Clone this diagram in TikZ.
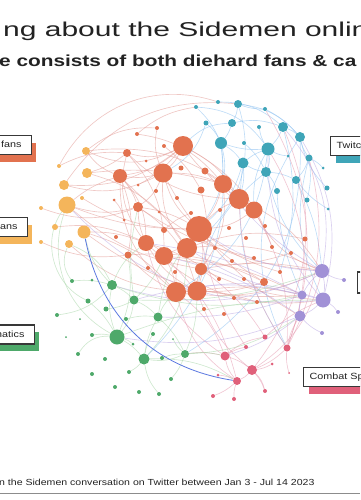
\documentclass[tikz,border=0pt]{standalone}
\usepackage{fontspec}
\setmainfont{Liberation Sans}
\newfontfamily\titlefont[FakeStretch=1.5]{Liberation Sans}
\newfontfamily\subfont[FakeStretch=1.3]{Liberation Sans}
\newfontfamily\labelfont[FakeStretch=1.2]{Liberation Sans}
\usetikzlibrary{backgrounds,shadows}

\definecolor{corange}{HTML}{E2724F}
\definecolor{cyellow}{HTML}{F4B55B}
\definecolor{cteal}{HTML}{3FA5B8}
\definecolor{cpurple}{HTML}{A191D6}
\definecolor{cgreen}{HTML}{4EA96A}
\definecolor{cpink}{HTML}{E0607A}
\definecolor{cline}{HTML}{5B78E0}
\definecolor{ink}{HTML}{222222}
\definecolor{eorange}{HTML}{E29A95}
\definecolor{eteal}{HTML}{8CC0F0}
\definecolor{epink}{HTML}{E59AB0}
\definecolor{epurple}{HTML}{BBA8E3}
\definecolor{egreen}{HTML}{A9D6A9}

\tikzset{
  dot/.style={circle, inner sep=0pt, draw=none},
  odot/.style={dot, fill=corange},
  ydot/.style={dot, fill=cyellow},
  tdot/.style={dot, fill=cteal},
  pdot/.style={dot, fill=cpurple},
  gdot/.style={dot, fill=cgreen},
  kdot/.style={dot, fill=cpink},
  edge/.style={line width=.65pt, opacity=.55},
  oedge/.style={edge, draw=eorange},
  tedge/.style={edge, draw=eteal},
  kedge/.style={edge, draw=epink},
  pedge/.style={edge, draw=epurple},
  gedge/.style={edge, draw=egreen},
  tag/.style={draw=black!78, line width=1.1pt, fill=white, font=\labelfont\fontsize{9}{11}\selectfont,
    text=ink, text width=60pt, minimum height=19pt, text height=7pt, text depth=2pt, inner ysep=4pt},
  ltag/.style={tag, anchor=east, align=right, inner xsep=10pt},
  rtag/.style={tag, anchor=west, align=left, inner xsep=6pt},
  shade/.style={drop shadow={opacity=1, fill=#1, shadow xshift=5pt, shadow yshift=-7pt}}
}

\begin{document}
\begin{tikzpicture}[x=1pt, y=-1pt]
  \useasboundingbox (0,0) rectangle (360,500);
  \clip (0,0) rectangle (360,500);

  % headline
  \node[anchor=base west, inner sep=0, text=ink, font=\titlefont\fontsize{20}{24}\selectfont] (title) at (3,37) {ng about the Sidemen onlin};
  \node[anchor=base west, inner sep=0, text=ink, font=\subfont\bfseries\fontsize{16}{19}\selectfont] (subtitle) at (-1,67) {e consists of both diehard fans \& ca};

  % communities
  \foreach \n/\x/\y/\r in {o1/183/146/10, o2/120/176/7, o3/163/173/9.5, o4/127/153/4, o5/181/168/2.5, o6/205/171/3.5,
      o7/223/184/9, o8/239/199/10, o9/254/210/8.5, o10/201/190/3.5, o11/138/207/5, o12/199/229/13, o13/146/243/8,
      o14/164/230/3, o15/187/248/10, o16/164/256/9, o17/128/255/3.5, o18/201/269/6, o19/176/292/10, o20/197/291/9.5,
      o21/137/134/2, o22/157/128/2, o23/164/146/2, o24/146/161/1.5, o25/156/191/2, o26/177/198/2, o27/114/200/1.5,
      o28/138/185/1.5, o29/159/212/1.5, o30/191/213/2, o31/220/210/2, o32/229/228/2, o33/246/238/2, o34/265/226/2,
      o35/272/247/2, o36/124/220/1.5, o37/116/237/2, o38/215/248/2, o39/148/268/2, o40/175/272/2, o41/232/261/2,
      o42/254/258/2, o43/280/272/2, o44/219/279/2, o45/244/279/2, o46/264/282/4, o47/234/298/2, o48/257/302/2,
      o49/204/309/2, o50/224/314/2, o51/305/239/2.5, o52/291/253/2}
    \node[odot, minimum size=2*\r] (\n) at (\x,\y) {};
  \foreach \n/\x/\y/\r in {y1/86/151/4, y2/87/173/5, y3/64/185/5, y4/67/205/8.5, y5/82/198/2, y6/84/232/6.5,
      y7/69/244/4, y8/59/166/2, y9/41/208/2, y10/55/227/3, y11/41/242/2}
    \node[ydot, minimum size=2*\r] (\n) at (\x,\y) {};
  \foreach \n/\x/\y/\r in {t1/238/104/4, t2/218/102/2, t3/196/107/2, t4/206/123/2.5, t5/232/123/4, t6/221/143/6,
      t7/244/143/2, t8/259/127/2, t9/265/109/2, t10/268/149/6.5, t11/243/163/5.5, t12/266/172/5, t13/277/191/3,
      t14/283/127/5, t15/300/137/5, t16/309/158/3.5, t17/288/156/1.5, t18/296/180/4, t19/323/168/1.5,
      t20/327/188/2.5, t21/307/200/2.5, t22/328/209/1.5}
    \node[tdot, minimum size=2*\r] (\n) at (\x,\y) {};
  \foreach \n/\x/\y/\r in {p1/322/271/7, p2/323/300/7.5, p3/302/295/4.5, p4/300/316/5.5, p5/344/280/2,
      p6/338/312/2, p7/322/333/2}
    \node[pdot, minimum size=2*\r] (\n) at (\x,\y) {};
  \foreach \n/\x/\y/\r in {g1/112/285/5, g2/134/300/4.5, g3/158/317/4.5, g4/117/337/7.5, g5/144/359/5.5,
      g6/185/354/4, g7/72/281/2, g8/92/280/1.5, g9/88/301/2.5, g10/106/309/2.5, g11/126/319/2, g12/80/319/1,
      g13/66/337/1, g14/92/335/2, g15/133/344/1.5, g16/153/334/2, g17/78/354/2, g18/105/359/2, g19/92/374/2,
      g20/129/372/2, g21/162/358/2, g22/115/387/2, g23/139/392/2, g24/159/394/2, g25/171/379/2, g26/57/315/2,
      g27/173/339/1}
    \node[gdot, minimum size=2*\r] (\n) at (\x,\y) {};
  \foreach \n/\x/\y/\r in {k1/225/356/4.5, k2/252/370/5, k3/237/381/4, k4/287/348/3.5, k5/265/337/2.5,
      k6/246/347/2, k7/272/364/1.5, k8/289/373/1, k9/218/375/1.5, k10/213/396/2, k11/234/399/2, k12/265/391/2}
    \node[kdot, minimum size=2*\r] (\n) at (\x,\y) {};

  % ties
  \begin{scope}[on background layer]
    \foreach \a/\b/\bnd in {o1/o2/15, o1/o3/10, o1/o7/-10, o1/o4/20, o2/o3/-10, o2/o11/10, o2/o13/20, o3/o12/-15,
        o3/o7/10, o3/o11/15, o4/o8/-20, o7/o12/10, o8/o12/-10, o9/o12/15, o11/o13/-10, o12/o15/10, o12/o19/-20,
        o13/o16/15, o15/o16/-10, o16/o19/10, o19/o20/-15, o20/o18/10, o18/o12/-10, o2/y1/15, o2/y4/-10, o4/y2/10,
        o11/y4/15, o13/y6/-10, o3/y3/20, o1/y1/25, o19/p1/-15, o20/p3/10, o18/p2/-10, o9/p1/-20, o8/p1/15,
        o12/p4/-10, o16/p3/10, o15/p1/15, o2/o19/-25, o4/o16/20, o13/o20/-15, o11/o12/10, o7/o9/-10, o1/o8/15,
        y4/o12/-10, y6/o19/15, o2/p1/-20, o1/o35/20, o3/o46/-15, o13/o44/10, o17/o46/15, o11/o42/-10, y2/o7/10,
        y3/o1/-20, y3/t1/30, y1/o9/25, y7/o20/-20, y4/o18/-15, o4/o13/-25, o2/o17/15, o3/o15/-20, o7/o18/20,
        o12/o43/-10, o15/o51/15, o16/o52/-15, o19/o48/10, o20/o46/-10, o14/o30/10, o21/o7/20, o22/o3/-15,
        o23/o10/10, o27/o36/15, o28/o1/-10, o11/o20/20, y5/o12/-15, y2/o15/20, o6/o9/-10, o10/o20/15,
        o17/o19/-10, o13/p2/-25, o18/p1/10, y6/p3/-20, y8/o4/15, y9/o11/-20, y10/o13/15, y11/o17/-15,
        y8/t2/40, y1/o22/20, o21/t3/15}
      \draw[oedge] (\a) to[bend left=\bnd] (\b);
    \foreach \a/\b/\bnd in {t1/t5/10, t1/t9/-10, t5/t6/10, t6/t10/-10, t6/t11/10, t10/t11/-10, t10/t12/15,
        t10/t14/-10, t14/t15/10, t15/t16/-10, t12/t13/10, t11/t12/-10, t16/t18/10, t18/t12/-10, t6/o7/10,
        t10/o9/-15, t11/o8/10, t5/t14/15, t6/t3/-10, t4/t6/10, t1/t15/20, t12/p1/-15, t16/p2/-20, t6/o12/20,
        t6/g5/25, t11/k4/-20, t10/o19/25, t12/o20/-20, t15/g6/30, t3/t10/25, t2/t14/20, t9/t15/10, t8/t10/-10,
        t7/t12/10, t13/p3/-10, t18/p1/10, t21/t16/-10, t20/t15/15, t5/o1/-20, t11/o12/15, t4/o3/20, t14/o43/15,
        t15/k4/-30, t1/o15/35, t17/t10/10, t19/t16/-10, t22/t18/10}
      \draw[tedge] (\a) to[bend left=\bnd] (\b);
    \foreach \a/\b/\bnd in {k1/k2/10, k1/k3/-15, k2/k3/10, k2/k4/-10, k1/k5/15, k3/k10/10, k3/k11/-10,
        k2/k12/15, k4/p4/10, k1/o19/-15, k2/o20/15, k5/o18/-10, k4/t10/-25, k2/t14/-30, k1/o13/20, k3/o16/-15,
        k4/o8/15, k6/o12/10, k4/t16/-20, k5/p2/10, k7/k2/10, k9/k3/10, k6/k1/-10, k3/o19/20, k1/g6/-10,
        k2/p1/-20, k4/o9/-15, k12/k2/-10, k8/k4/10, t9/k4/25}
      \draw[kedge] (\a) to[bend left=\bnd] (\b);
    \foreach \a/\b/\bnd in {p1/p2/10, p1/p3/-10, p2/p4/10, p3/p4/-10, p1/o12/15, p2/o19/-15, p3/o15/10,
        p4/o16/-10, p1/g1/20, p2/g2/-15, p4/k1/10, p1/t14/-25, p2/t10/20, p3/o13/-10, p3/g3/10, p2/y4/25,
        p4/g4/15, p1/o7/10, p5/p1/10, p6/p2/-10, p7/p4/10, t15/p2/22}
      \draw[pedge] (\a) to[bend left=\bnd] (\b);
    \foreach \a/\b/\bnd in {g1/g2/10, g1/g4/-15, g2/g3/10, g2/g4/15, g3/g5/-10, g4/g5/10, g5/g6/-15, g3/g6/10,
        g1/o13/15, g2/o16/-10, g3/o19/10, g4/o17/-15, g6/k1/10, g6/p4/-15, g5/k3/15, g1/p3/-15, g2/p1/-10,
        g4/p2/10, g9/g4/10, g10/g2/-10, g7/g1/10, g1/y6/15, g4/y4/40, g6/o20/-10, g3/o12/15, g5/o15/-20,
        g1/y7/-20, g2/o11/10, g9/y4/50, g7/y7/30, g11/g3/10, g16/g5/-10, g14/g4/10, g20/g5/-10, g21/g6/10,
        g25/g6/-10, g24/g5/15, g15/g4/-10, g4/g17/-30, g1/g26/20, g6/g27/10}
      \draw[gedge] (\a) to[bend left=\bnd] (\b);
  \end{scope}
  \draw[cline, line width=.8pt] (y6) to[bend right=35] (k3);

  % community tags
  \node[ltag, shade=corange] (tagfans) at (32,145) {fans};
  \node[ltag, shade=cyellow] (tagsuper) at (28,227) {fans};
  \node[ltag, shade=cgreen] (taggreen) at (35,334.5) {natics};
  \node[rtag, shade=cteal] (tagtwitch) at (330,146) {Twitc};
  \node[rtag, shade=cpink] (tagcombat) at (303,377) {Combat Sp};
  \node[rtag, shade=cpurple, minimum height=21pt] (tagpurple) at (357,282.5) {};

  % footer
  \node[anchor=base west, inner sep=0, text=ink, font=\labelfont\fontsize{8.8}{10}\selectfont] (source) at (-1,485)
    {n the Sidemen conversation on Twitter between Jan 3 - Jul 14 2023};
  \draw[black!45, line width=1pt] (0,493) -- (360,493);
\end{tikzpicture}
\end{document}
